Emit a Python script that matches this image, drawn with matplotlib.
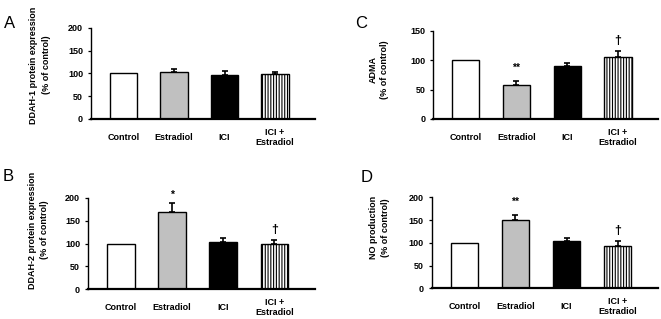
import numpy as np
import matplotlib
matplotlib.use("Agg")
import matplotlib.pyplot as plt

plt.rcParams["font.family"] = ["Liberation Sans", "DejaVu Sans"]
plt.rcParams["hatch.linewidth"] = 0.8

groups = ["Control", "Estradiol", "ICI", "ICI +\nEstradiol"]

ddah1_mean = [100, 102, 97, 99]
ddah1_err = [0, 8, 9, 3]

adma_mean = [100, 58, 91, 106]
adma_err = [0, 7, 4, 10]

ddah2_mean = [100, 168, 104, 100]
ddah2_err = [0, 20, 7, 8]

no_mean = [100, 150, 103, 93]
no_err = [0, 12, 8, 11]

adma_marks = ["", "**", "", "\u2020"]
ddah2_marks = ["", "*", "", "\u2020"]
no_marks = ["", "**", "", "\u2020"]
ddah1_marks = ["", "", "", ""]

face = ["white", "#c0c0c0", "black", "white"]
hatch = [None, None, None, "||||||"]

FS = 6.5

fig = plt.figure(figsize=(6.61, 3.19), dpi=100)


def panel(rect, means, errs, marks, ymax, ylabel, letter, letter_xy, label_xy):
    ax = fig.add_axes(rect)
    x = np.arange(len(groups))
    means = np.asarray(means, dtype=float)
    errs = np.asarray(errs, dtype=float)
    bars = ax.bar(x, means, width=0.54, color=face, edgecolor="black",
                  linewidth=1.0, zorder=2)
    for b, h in zip(bars, hatch):
        if h:
            b.set_hatch(h)
    has_err = errs > 0
    ax.errorbar(x[has_err], means[has_err],
                yerr=[np.zeros(has_err.sum()), errs[has_err]], fmt="none",
                ecolor="black", elinewidth=1.2, capsize=2.2, capthick=1.2, zorder=3)
    # significance marks sit just above the error bar
    offsets = {"*": 2.5, "**": 5.5, "\u2020": 3}
    for xi, m, e, t in zip(x, means, errs, marks):
        if t:
            ax.annotate(t, (xi, m + e), xytext=(0, offsets[t]),
                        textcoords="offset points", ha="center", va="bottom",
                        fontsize=9 if t == "\u2020" else 7.5,
                        fontweight="bold", annotation_clip=False)
    ax.set_xlim(-0.64, 3.79)
    ax.set_ylim(0, ymax)
    ax.set_yticks(np.arange(0, ymax + 1, 50))
    ax.set_xticks(x)
    ax.set_xticklabels(groups, fontsize=FS, fontweight="bold", linespacing=1.15)
    for lbl in ax.get_xticklabels():
        lbl.set_va("center")
    ax.tick_params(axis="x", length=0, pad=13)
    ax.tick_params(axis="y", length=2.2, width=0.9, pad=3.5, labelsize=FS)
    for lbl in ax.get_yticklabels():
        lbl.set_fontweight("bold")
    ax.spines["top"].set_visible(False)
    ax.spines["right"].set_visible(False)
    ax.spines["left"].set_linewidth(1.0)
    ax.spines["bottom"].set_linewidth(1.6)
    ax.set_ylabel(ylabel, fontsize=FS, fontweight="bold", linespacing=1.45,
                  multialignment="center")
    ax.yaxis.label.set_va("center")
    ax.yaxis.set_label_coords(*label_xy)
    fig.text(letter_xy[0], letter_xy[1], letter, fontsize=12, ha="left", va="center")
    return ax


panel([0.1377, 0.6270, 0.3389, 0.2862], ddah1_mean, ddah1_err, ddah1_marks, 200,
      "DDAH-1 protein expression\n(% of control)", "A", (0.006, 0.925), (-0.228, 0.59))
panel([0.6555, 0.6270, 0.3400, 0.2759], adma_mean, adma_err, adma_marks, 150,
      "ADMA\n(% of control)", "C", (0.538, 0.925), (-0.242, 0.557))
panel([0.1331, 0.0931, 0.3434, 0.2871], ddah2_mean, ddah2_err, ddah2_marks, 200,
      "DDAH-2 protein expression\n(% of control)", "B", (0.004, 0.447), (-0.219, 0.647))
panel([0.6531, 0.0962, 0.3424, 0.2853], no_mean, no_err, no_marks, 200,
      "NO production\n(% of control)", "D", (0.545, 0.443), (-0.23, 0.67))

fig.savefig("out.png", dpi=100)
